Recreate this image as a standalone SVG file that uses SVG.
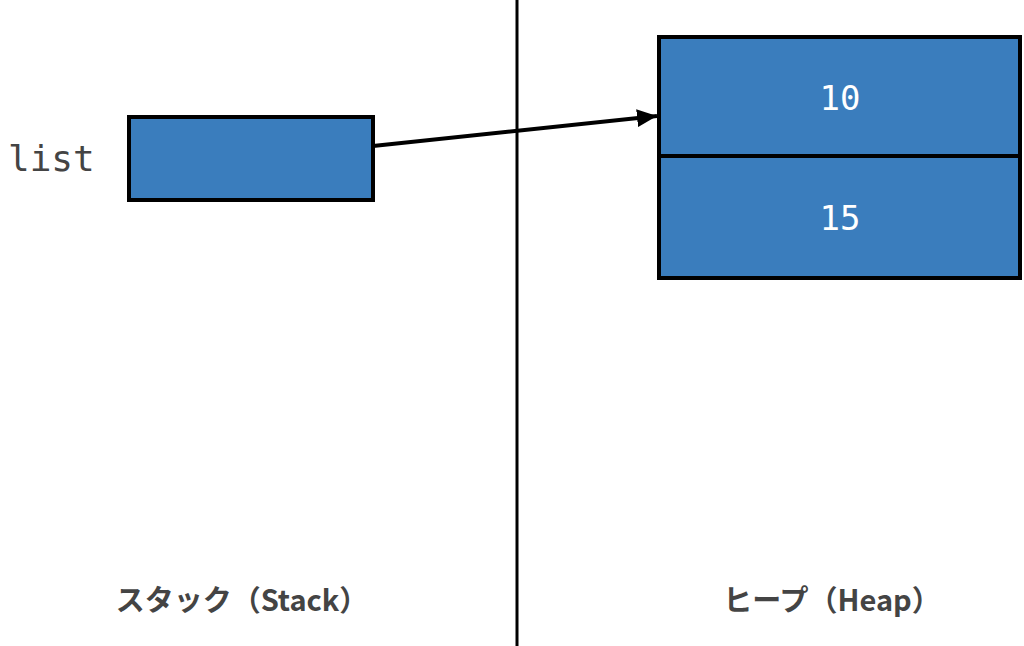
<svg xmlns="http://www.w3.org/2000/svg" width="1024" height="646" viewBox="0 0 1024 646">
<style>
.box{fill:#3a7dbd;stroke:#000;stroke-width:4}
.val{font-family:"DejaVu Sans Mono","Liberation Mono",monospace;font-size:34px;fill:#fff;text-anchor:middle}
.lbl{font-family:"Noto Sans CJK JP","Noto Sans",sans-serif;font-weight:bold;font-size:29px;fill:#444;text-anchor:middle}
</style>
<defs>
<marker id="arr" markerWidth="20" markerHeight="18" refX="20" refY="9" orient="auto" markerUnits="userSpaceOnUse" viewBox="0 0 20 18">
<path d="M0,0 L20,9 L0,18 z" fill="#000"/>
</marker>
</defs>
<rect width="1024" height="646" fill="#fff"/>
<line x1="517" y1="0" x2="517" y2="646" stroke="#000" stroke-width="3"/>
<g id="stack">
<text x="8" y="171" font-family="DejaVu Sans Mono,Liberation Mono,monospace" font-size="36" fill="#444">list</text>
<rect class="box" x="129" y="117" width="244" height="83"/>
</g>
<g id="heap">
<rect class="box" x="659" y="37" width="361" height="119"/>
<rect class="box" x="659" y="156" width="361" height="122"/>
<text class="val" x="840" y="110">10</text>
<text class="val" x="840" y="230">15</text>
</g>
<g id="connectors">
<line x1="373" y1="146" x2="657" y2="116" stroke="#000" stroke-width="4" marker-end="url(#arr)"/>
</g>
<g id="labels">
<text class="lbl" x="242" y="611">スタック（Stack）</text>
<text class="lbl" x="832" y="611">ヒープ（Heap）</text>
</g>
</svg>
